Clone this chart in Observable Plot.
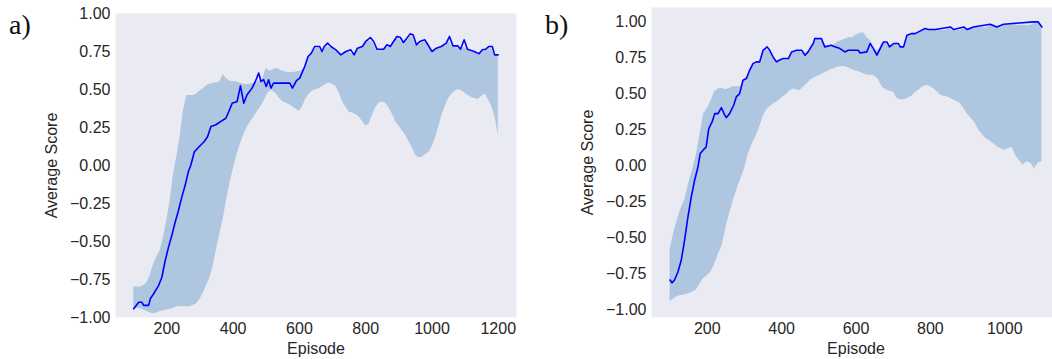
<!DOCTYPE html>
<html>
<head>
<meta charset="utf-8">
<script src="https://cdn.jsdelivr.net/npm/d3@7"></script>
<script src="https://cdn.jsdelivr.net/npm/@observablehq/plot@0.6"></script>
<style>
  html, body { margin: 0; padding: 0; background: #fff; overflow: hidden; width: 1052px; height: 359px; }
  #wrap { position: relative; width: 1052px; height: 359px; overflow: hidden; }
  .panel { position: absolute; top: 0; }
  .tag { position: absolute; font-family: "Liberation Serif", serif; font-size: 28px; color: #111; line-height: 1; }
</style>
</head>
<body>
<div id="wrap"></div>
<script>
// ---------- Panel a ----------
const lineAEp  = [100,115,125,130,145,150,160,175,185,195,205,215,225,235,245,255,265,272,283,298,313,323,333,348,363,378,387,397,412,422,432,442,457,467,477,484,492,500,507,514,522,571,579,591,601,616,626,636,646,661,668,675,685,695,710,725,740,755,765,775,790,800,814,824,834,854,864,874,894,904,914,924,934,943,953,963,978,988,1000,1013,1028,1043,1053,1063,1078,1086,1097,1107,1127,1142,1152,1162,1172,1182,1189,1200];
const lineAVal = [-0.943,-0.90,-0.90,-0.92,-0.92,-0.877,-0.844,-0.79,-0.735,-0.625,-0.537,-0.46,-0.373,-0.296,-0.208,-0.132,-0.04,0.0,0.09,0.125,0.158,0.191,0.257,0.268,0.29,0.311,0.355,0.41,0.421,0.524,0.41,0.465,0.509,0.553,0.608,0.553,0.564,0.52,0.564,0.509,0.542,0.542,0.509,0.559,0.575,0.651,0.717,0.739,0.783,0.783,0.75,0.783,0.805,0.783,0.761,0.728,0.75,0.761,0.728,0.772,0.783,0.816,0.842,0.816,0.765,0.765,0.794,0.783,0.849,0.844,0.809,0.838,0.866,0.86,0.794,0.816,0.827,0.794,0.75,0.772,0.783,0.805,0.849,0.787,0.787,0.765,0.827,0.765,0.75,0.735,0.761,0.765,0.783,0.783,0.728,0.728];

const bandAEp = [100,110,120,130,140,150,160,170,180,190,200,210,220,230,240,250,260,270,280,290,300,310,320,330,340,350,360,370,380,390,400,410,420,430,440,450,460,470,480,490,500,510,520,530,540,550,560,570,580,590,600,610,620,630,640,650,660,670,680,690,700,710,720,730,740,750,760,770,780,790,800,810,820,830,840,850,860,870,880,890,900,910,920,930,940,950,960,970,980,990,1000,1010,1020,1030,1040,1050,1060,1070,1080,1090,1100,1110,1120,1130,1140,1150,1160,1170,1180,1190,1200];
const bandAHi = [-0.80,-0.80,-0.80,-0.79,-0.77,-0.72,-0.65,-0.60,-0.56,-0.47,-0.36,-0.23,-0.06,0.06,0.19,0.36,0.46,0.46,0.46,0.47,0.49,0.505,0.525,0.535,0.54,0.545,0.55,0.60,0.57,0.555,0.553,0.55,0.542,0.537,0.531,0.535,0.54,0.545,0.56,0.575,0.64,0.62,0.63,0.64,0.63,0.62,0.615,0.612,0.612,0.615,0.618,0.63,0.66,0.72,0.74,0.77,0.77,0.75,0.78,0.78,0.77,0.75,0.73,0.73,0.74,0.75,0.73,0.75,0.77,0.77,0.80,0.82,0.81,0.77,0.755,0.755,0.775,0.775,0.80,0.83,0.835,0.81,0.82,0.85,0.85,0.80,0.80,0.81,0.81,0.79,0.745,0.76,0.77,0.775,0.79,0.83,0.78,0.775,0.775,0.78,0.775,0.755,0.745,0.74,0.725,0.745,0.755,0.765,0.77,0.72,0.72];
const bandALo = [-0.94,-0.94,-0.94,-0.95,-0.96,-0.97,-0.975,-0.97,-0.96,-0.955,-0.95,-0.945,-0.94,-0.93,-0.93,-0.93,-0.93,-0.93,-0.92,-0.91,-0.88,-0.84,-0.79,-0.74,-0.66,-0.55,-0.45,-0.35,-0.23,-0.12,-0.03,0.06,0.13,0.19,0.24,0.28,0.31,0.345,0.375,0.41,0.455,0.49,0.49,0.47,0.44,0.42,0.41,0.40,0.385,0.37,0.356,0.39,0.44,0.47,0.49,0.50,0.505,0.52,0.535,0.543,0.535,0.52,0.48,0.42,0.385,0.35,0.345,0.335,0.32,0.29,0.26,0.27,0.33,0.38,0.41,0.42,0.41,0.38,0.34,0.29,0.26,0.23,0.20,0.16,0.12,0.07,0.05,0.055,0.07,0.085,0.12,0.18,0.25,0.33,0.39,0.44,0.47,0.49,0.50,0.49,0.475,0.46,0.445,0.44,0.435,0.455,0.47,0.435,0.39,0.32,0.20];

// ---------- Panel b ----------
const lineBEp  = [100,105,112,121,130,139,148,157,166,175,181,190,197,204,213,220,229,238,247,251,260,271,278,287,296,305,314,323,332,341,350,361,368,377,386,393,404,418,427,440,454,463,471,485,489,507,516,534,543,557,570,579,606,611,629,638,647,656,665,674,683,690,701,714,719,728,737,750,759,768,786,795,813,854,863,890,899,916,961,979,997,1078,1090,1100];
const lineBVal = [-0.79,-0.81,-0.79,-0.734,-0.653,-0.514,-0.353,-0.214,-0.098,-0.006,0.087,0.114,0.133,0.26,0.306,0.364,0.364,0.406,0.353,0.336,0.364,0.422,0.48,0.503,0.595,0.607,0.665,0.711,0.723,0.723,0.803,0.827,0.803,0.757,0.723,0.734,0.746,0.746,0.792,0.803,0.803,0.769,0.792,0.85,0.884,0.884,0.827,0.838,0.827,0.815,0.792,0.803,0.803,0.785,0.792,0.85,0.815,0.769,0.815,0.861,0.861,0.827,0.85,0.85,0.827,0.827,0.908,0.919,0.919,0.931,0.954,0.947,0.947,0.965,0.947,0.965,0.947,0.965,0.984,0.965,0.984,1.0,1.0,0.965];

const bandBEp = [100,110,120,130,140,150,160,170,180,190,200,210,220,230,240,250,260,270,280,290,300,310,320,330,340,350,360,370,380,390,400,410,420,430,440,450,460,470,480,490,500,510,520,530,540,550,560,570,580,590,600,610,620,630,640,650,660,670,680,690,700,710,720,730,740,750,760,770,780,790,800,810,820,830,840,850,860,870,880,890,900,910,920,930,940,950,960,970,980,990,1000,1010,1020,1030,1040,1050,1060,1070,1080,1090,1100];
const bandBHi = [-0.58,-0.46,-0.37,-0.29,-0.23,-0.12,-0.03,0.07,0.21,0.36,0.40,0.45,0.52,0.535,0.54,0.53,0.54,0.55,0.55,0.55,0.59,0.63,0.69,0.71,0.72,0.79,0.81,0.79,0.74,0.72,0.735,0.74,0.745,0.785,0.795,0.795,0.775,0.785,0.82,0.875,0.875,0.86,0.83,0.835,0.84,0.86,0.87,0.88,0.89,0.89,0.91,0.92,0.925,0.89,0.87,0.80,0.80,0.85,0.855,0.82,0.845,0.845,0.82,0.82,0.90,0.91,0.915,0.925,0.94,0.945,0.94,0.94,0.94,0.94,0.94,0.955,0.94,0.94,0.94,0.955,0.94,0.955,0.96,0.96,0.96,0.96,0.975,0.975,0.96,0.96,0.975,0.975,0.975,0.975,0.975,0.975,0.975,0.975,0.99,0.99,0.96];
const bandBLo = [-0.94,-0.92,-0.905,-0.898,-0.892,-0.886,-0.875,-0.86,-0.82,-0.78,-0.76,-0.735,-0.68,-0.61,-0.55,-0.43,-0.33,-0.24,-0.16,-0.09,-0.02,0.08,0.15,0.20,0.265,0.34,0.39,0.415,0.435,0.45,0.47,0.49,0.515,0.535,0.53,0.525,0.55,0.575,0.60,0.615,0.627,0.64,0.652,0.665,0.676,0.685,0.69,0.69,0.68,0.67,0.66,0.653,0.64,0.63,0.63,0.625,0.60,0.55,0.53,0.52,0.515,0.47,0.46,0.46,0.47,0.485,0.51,0.53,0.55,0.56,0.55,0.535,0.51,0.49,0.483,0.475,0.46,0.45,0.435,0.40,0.36,0.33,0.30,0.25,0.22,0.19,0.175,0.155,0.135,0.12,0.11,0.12,0.13,0.07,0.035,0.008,0.03,0.02,-0.02,0.02,0.03];

const yTicks = [-1, -0.75, -0.5, -0.25, 0, 0.25, 0.5, 0.75, 1];
const xTicksA = [200, 400, 600, 800, 1000, 1200];
const xTicksB = [200, 400, 600, 800, 1000];

const fmtY = d => (d < 0 ? "\u2212" : "") + Math.abs(d).toFixed(2);
const fmtX = d => String(d);

function rows(ep, vals) { return ep.map((e, i) => ({ep: e, v: vals[i]})); }
function bandRows(ep, lo, hi) { return ep.map((e, i) => ({ep: e, lo: lo[i], hi: hi[i]})); }

function panel({lineEp, lineVal, bandEp, bandLo, bandHi, xDomain, yDomain, xTicks, width, marginLeft, marginRight, marginTop, marginBottom}) {
  return Plot.plot({
    width, height: 359,
    marginLeft, marginRight, marginTop, marginBottom,
    style: {fontFamily: "'Liberation Sans', Arial, sans-serif", color: "#262626", background: "transparent", overflow: "visible"},
    x: {domain: xDomain},
    y: {domain: yDomain},
    marks: [
      Plot.frame({fill: "#eaeaf2", stroke: null}),
      Plot.areaY(bandRows(bandEp, bandLo, bandHi), {x: "ep", y1: "lo", y2: "hi", fill: "#aec6df", curve: "linear"}),
      Plot.line(rows(lineEp, lineVal), {x: "ep", y: "v", stroke: "#0000ff", strokeWidth: 1.6}),
      Plot.axisY({ticks: yTicks, tickFormat: fmtY, tickSize: 0, tickPadding: 5, fontSize: 16,
        label: "Average Score", labelAnchor: "center", labelOffset: 70, labelArrow: "none"}),
      Plot.axisX({ticks: xTicks, tickFormat: fmtX, tickSize: 0, tickPadding: 5, fontSize: 16,
        label: "Episode", labelAnchor: "center", labelOffset: 36, labelArrow: "none"})
    ]
  });
}

const wrap = document.getElementById("wrap");

const a = panel({lineEp: lineAEp, lineVal: lineAVal, bandEp: bandAEp, bandLo: bandALo, bandHi: bandAHi,
  xDomain: [45, 1255], yDomain: [-1, 1], xTicks: xTicksA,
  width: 530, marginLeft: 115, marginRight: 14, marginTop: 13, marginBottom: 42});
a.classList.add("panel"); a.style.left = "0px";
wrap.appendChild(a);

const b = panel({lineEp: lineBEp, lineVal: lineBVal, bandEp: bandBEp, bandLo: bandBLo, bandHi: bandBHi,
  xDomain: [50, 1150], yDomain: [-1.05, 1.10], xTicks: xTicksB,
  width: 531, marginLeft: 121, marginRight: 1, marginTop: 7, marginBottom: 42});
b.classList.add("panel"); b.style.left = "530px";
wrap.appendChild(b);

function tag(text, left) {
  const d = document.createElement("div");
  d.className = "tag"; d.textContent = text;
  d.style.left = left + "px"; d.style.top = "11px";
  wrap.appendChild(d);
}
tag("a)", 9);
tag("b)", 545);
</script>
</body>
</html>
